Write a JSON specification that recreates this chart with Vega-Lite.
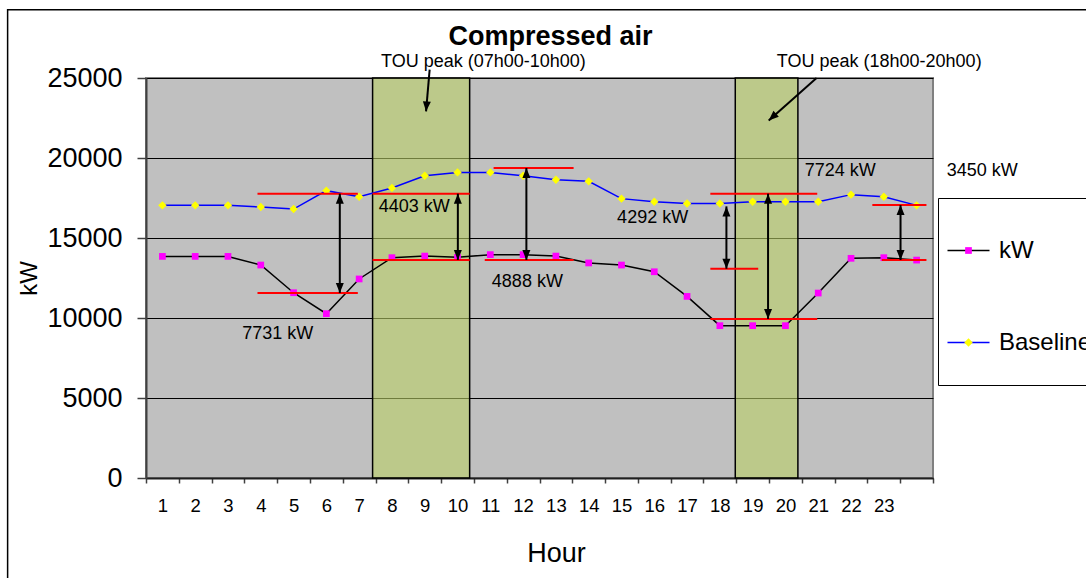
{
  "$schema": "https://vega.github.io/schema/vega-lite/v6.json",
  "width": 787,
  "height": 400,
  "autosize": {"type": "none"},
  "padding": {"left": 146, "top": 78, "right": 153, "bottom": 100},
  "background": "white",
  "title": {
    "text": "Compressed air",
    "fontSize": 27,
    "fontWeight": "bold",
    "color": "black",
    "anchor": "middle",
    "frame": "group",
    "dx": 11,
    "offset": -42
  },
  "config": {
    "font": "Liberation Sans",
    "view": {"fill": "#c0c0c0", "stroke": "#808080", "strokeWidth": 2}
  },
  "datasets": {
    "hourly": [
      {"hour": 1, "kW": 13850, "Baseline": 17040},
      {"hour": 2, "kW": 13850, "Baseline": 17040},
      {"hour": 3, "kW": 13850, "Baseline": 17040},
      {"hour": 4, "kW": 13310, "Baseline": 16940},
      {"hour": 5, "kW": 11580, "Baseline": 16810},
      {"hour": 6, "kW": 10270, "Baseline": 17960},
      {"hour": 7, "kW": 12440, "Baseline": 17580},
      {"hour": 8, "kW": 13770, "Baseline": 18130},
      {"hour": 9, "kW": 13870, "Baseline": 18890},
      {"hour": 10, "kW": 13790, "Baseline": 19100},
      {"hour": 11, "kW": 13960, "Baseline": 19100},
      {"hour": 12, "kW": 13960, "Baseline": 18890},
      {"hour": 13, "kW": 13870, "Baseline": 18640},
      {"hour": 14, "kW": 13440, "Baseline": 18540},
      {"hour": 15, "kW": 13310, "Baseline": 17460},
      {"hour": 16, "kW": 12890, "Baseline": 17270},
      {"hour": 17, "kW": 11350, "Baseline": 17160},
      {"hour": 18, "kW": 9520, "Baseline": 17160},
      {"hour": 19, "kW": 9520, "Baseline": 17270},
      {"hour": 20, "kW": 9520, "Baseline": 17270},
      {"hour": 21, "kW": 11560, "Baseline": 17270},
      {"hour": 22, "kW": 13730, "Baseline": 17710},
      {"hour": 23, "kW": 13770, "Baseline": 17580},
      {"hour": 24, "kW": 13620, "Baseline": 17040}
    ],
    "peaks": [
      {"start": 7.41, "end": 10.37},
      {"start": 18.47, "end": 20.38}
    ],
    "levels": [
      {"from": 3.9, "to": 6.96, "level": 17770},
      {"from": 7.41, "to": 10.37, "level": 17770},
      {"from": 11.1, "to": 13.54, "level": 19375},
      {"from": 17.71, "to": 20.97, "level": 17770},
      {"from": 22.65, "to": 24.3, "level": 17060},
      {"from": 3.9, "to": 6.96, "level": 11560},
      {"from": 7.41, "to": 10.37, "level": 13625},
      {"from": 10.83, "to": 13.54, "level": 13625},
      {"from": 17.71, "to": 19.17, "level": 13080},
      {"from": 17.71, "to": 20.97, "level": 9940},
      {"from": 22.94, "to": 24.3, "level": 13625}
    ],
    "savings": [
      {"hour": 6.41, "top": 17770, "bottom": 11560},
      {"hour": 10.01, "top": 17770, "bottom": 13625},
      {"hour": 12.1, "top": 19375, "bottom": 13625},
      {"hour": 18.2, "top": 16975, "bottom": 13080},
      {"hour": 19.47, "top": 17770, "bottom": 9940},
      {"hour": 23.51, "top": 17060, "bottom": 13625}
    ],
    "pointers": [
      {"peak": "morning", "fromHour": 9.15, "fromValue": 25520, "toHour": 9.04, "toValue": 22910},
      {"peak": "evening", "fromHour": 20.95, "fromValue": 25000, "toHour": 19.49, "toValue": 22350}
    ],
    "notes": [
      {"hour": 8.68, "value": 16940, "text": "4403 kW"},
      {"hour": 4.52, "value": 9000, "text": "7731 kW"},
      {"hour": 12.13, "value": 12270, "text": "4888 kW"},
      {"hour": 15.95, "value": 16250, "text": "4292 kW"},
      {"hour": 21.67, "value": 19160, "text": "7724 kW"},
      {"hour": 26.0, "value": 19160, "text": "3450 kW"},
      {"hour": 10.79, "value": 25975, "text": "TOU peak (07h00-10h00)"},
      {"hour": 22.86, "value": 25975, "text": "TOU peak (18h00-20h00)"}
    ]
  },
  "layer": [
    {
      "data": {"values": [{}]},
      "mark": {"type": "rect", "fill": "transparent", "stroke": "black", "strokeWidth": 1.5, "clip": false},
      "encoding": {
        "x": {
          "datum": -3.72,
          "type": "quantitative",
          "scale": {"domain": [0.5, 24.5], "nice": false, "zero": false},
          "axis": {
            "values": [0.5, 1.5, 2.5, 3.5, 4.5, 5.5, 6.5, 7.5, 8.5, 9.5, 10.5, 11.5, 12.5, 13.5, 14.5, 15.5, 16.5, 17.5, 18.5, 19.5, 20.5, 21.5, 22.5, 23.5, 24.5],
            "tickCount": 40,
            "labelExpr": "datum.value < 23 ? format(datum.value + 0.5, 'd') : ''",
            "labelOffset": 16.4,
            "labelFontSize": 18.5,
            "labelColor": "black",
            "labelPadding": 13,
            "labelFlush": false,
            "labelOverlap": false,
            "labelBound": false,
            "tickSize": 5,
            "tickColor": "#404040",
            "tickWidth": 1.5,
            "domainColor": "#202020",
            "domainWidth": 2,
            "grid": false,
            "title": "Hour",
            "titleFontSize": 27,
            "titleFontWeight": "normal",
            "titleColor": "black",
            "titlePadding": 26,
            "titleX": 410
          }
        },
        "x2": {"datum": 40},
        "y": {
          "datum": 29270,
          "type": "quantitative",
          "scale": {"domain": [0, 25000], "nice": false, "zero": false},
          "axis": {
            "values": [0, 5000, 10000, 15000, 20000, 25000],
            "format": "d",
            "labelFontSize": 27,
            "labelColor": "black",
            "labelPadding": 15,
            "labelFlush": false,
            "labelOverlap": false,
            "labelBound": false,
            "tickSize": 9,
            "tickColor": "#404040",
            "tickWidth": 1.5,
            "domainColor": "#404040",
            "domainWidth": 2,
            "grid": true,
            "gridColor": "black",
            "gridWidth": 1,
            "title": "kW",
            "titleFontSize": 24,
            "titleFontWeight": "normal",
            "titleColor": "black",
            "titlePadding": 5
          }
        },
        "y2": {"datum": -10000}
      }
    },
    {
      "data": {"name": "peaks"},
      "mark": {"type": "rect", "fill": "#b9cf66", "fillOpacity": 0.6, "stroke": "black", "strokeWidth": 1.5},
      "encoding": {
        "x": {"field": "start", "type": "quantitative"},
        "x2": {"field": "end"},
        "y": {"datum": 0, "type": "quantitative"},
        "y2": {"datum": 25000}
      }
    },
    {
      "data": {"name": "hourly"},
      "transform": [{"fold": ["kW", "Baseline"], "as": ["series", "value"]}],
      "mark": {"type": "line", "strokeWidth": 1.5},
      "encoding": {
        "x": {"field": "hour", "type": "quantitative"},
        "y": {"field": "value", "type": "quantitative"},
        "stroke": {
          "field": "series",
          "type": "nominal",
          "sort": ["kW", "Baseline"],
          "scale": {"range": ["#000000", "#0000ff"]},
          "legend": {
            "orient": "none",
            "legendX": 792,
            "legendY": 120,
            "title": null,
            "symbolType": "M-1,0H1",
            "symbolSize": 1764,
            "symbolStrokeWidth": 1.5,
            "symbolFillColor": "transparent",
            "symbolOffset": -22,
            "labelOffset": 8.5,
            "labelFontSize": 24,
            "labelColor": "black",
            "rowPadding": 58,
            "padding": 30.5,
            "strokeColor": "black",
            "fillColor": "white"
          }
        }
      }
    },
    {
      "data": {"name": "hourly"},
      "transform": [{"fold": ["kW", "Baseline"], "as": ["marker", "value"]}],
      "mark": {"type": "point", "filled": true, "size": 1764, "strokeWidth": 0, "opacity": 1},
      "encoding": {
        "x": {"field": "hour", "type": "quantitative"},
        "y": {"field": "value", "type": "quantitative"},
        "fill": {
          "field": "marker",
          "type": "nominal",
          "scale": {"domain": ["kW", "Baseline"], "range": ["#ff00ff", "#ffff00"]},
          "legend": {
            "orient": "none",
            "legendX": 792,
            "legendY": 120,
            "title": null,
            "symbolSize": 1764,
            "symbolStrokeWidth": 1.5,
            "symbolStrokeColor": "transparent",
            "symbolOffset": -22,
            "labelOffset": 8.5,
            "labelFontSize": 24,
            "labelOpacity": 0,
            "rowPadding": 58,
            "padding": 30.5
          }
        },
        "shape": {
          "field": "marker",
          "type": "nominal",
          "scale": {"domain": ["kW", "Baseline"], "range": ["M-0.16,-0.16H0.16V0.16H-0.16Z", "M0,-0.2L0.2,0L0,0.2L-0.2,0Z"]},
          "legend": {
            "orient": "none",
            "legendX": 792,
            "legendY": 120,
            "title": null,
            "symbolSize": 1764,
            "symbolStrokeWidth": 1.5,
            "symbolStrokeColor": "transparent",
            "symbolOffset": -22,
            "labelOffset": 8.5,
            "labelFontSize": 24,
            "labelOpacity": 0,
            "rowPadding": 58,
            "padding": 30.5
          }
        }
      }
    },
    {
      "data": {"name": "levels"},
      "mark": {"type": "rule", "stroke": "#ff0000", "strokeWidth": 2},
      "encoding": {
        "x": {"field": "from", "type": "quantitative"},
        "x2": {"field": "to"},
        "y": {"field": "level", "type": "quantitative"}
      }
    },
    {
      "data": {"name": "savings"},
      "mark": {"type": "rule", "stroke": "black", "strokeWidth": 2},
      "encoding": {
        "x": {"field": "hour", "type": "quantitative"},
        "y": {"field": "top", "type": "quantitative"},
        "y2": {"field": "bottom"}
      }
    },
    {
      "data": {"name": "savings"},
      "mark": {"type": "point", "filled": true, "color": "black", "opacity": 1, "size": 400, "shape": "M0,0L-0.4,1L0.4,1Z"},
      "encoding": {
        "x": {"field": "hour", "type": "quantitative"},
        "y": {"field": "top", "type": "quantitative"}
      }
    },
    {
      "data": {"name": "savings"},
      "mark": {"type": "point", "filled": true, "color": "black", "opacity": 1, "size": 400, "shape": "M0,0L-0.4,-1L0.4,-1Z"},
      "encoding": {
        "x": {"field": "hour", "type": "quantitative"},
        "y": {"field": "bottom", "type": "quantitative"}
      }
    },
    {
      "data": {"name": "pointers"},
      "mark": {"type": "rule", "stroke": "black", "strokeWidth": 2, "clip": false},
      "encoding": {
        "x": {"field": "fromHour", "type": "quantitative"},
        "x2": {"field": "toHour"},
        "y": {"field": "fromValue", "type": "quantitative"},
        "y2": {"field": "toValue"}
      }
    },
    {
      "data": {"name": "pointers"},
      "transform": [{"filter": "datum.peak === 'morning'"}],
      "mark": {"type": "point", "filled": true, "color": "black", "opacity": 1, "size": 400, "shape": "M0,0L-0.4,1L0.4,1Z", "angle": 185},
      "encoding": {
        "x": {"field": "toHour", "type": "quantitative"},
        "y": {"field": "toValue", "type": "quantitative"}
      }
    },
    {
      "data": {"name": "pointers"},
      "transform": [{"filter": "datum.peak === 'evening'"}],
      "mark": {"type": "point", "filled": true, "color": "black", "opacity": 1, "size": 400, "shape": "M0,0L-0.4,1L0.4,1Z", "angle": 228},
      "encoding": {
        "x": {"field": "toHour", "type": "quantitative"},
        "y": {"field": "toValue", "type": "quantitative"}
      }
    },
    {
      "data": {"name": "notes"},
      "mark": {"type": "text", "fontSize": 18, "color": "black", "align": "center", "baseline": "middle", "clip": false},
      "encoding": {
        "x": {"field": "hour", "type": "quantitative"},
        "y": {"field": "value", "type": "quantitative"},
        "text": {"field": "text"}
      }
    }
  ]
}
